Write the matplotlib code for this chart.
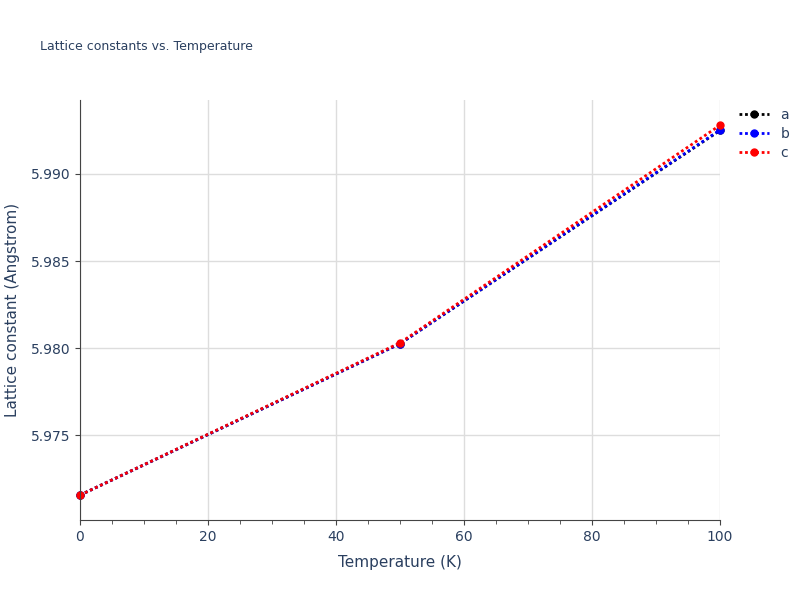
import matplotlib
matplotlib.use("Agg")
import matplotlib.pyplot as plt
from matplotlib.ticker import MultipleLocator

temps = [0, 50, 100]
a_vals = [5.97155, 5.98025, 5.99250]
b_vals = [5.97155, 5.98025, 5.99253]
c_vals = [5.97155, 5.98030, 5.99280]
series = [("a", a_vals, "black"), ("b", b_vals, "blue"), ("c", c_vals, "red")]

fig = plt.figure(figsize=(8, 6), dpi=100)
ax = fig.add_axes([0.1, 0.1333, 0.8, 0.7])
txt = "#2a3f5f"
for name, vals, col in series:
    ax.plot(temps, vals, linestyle=(0, (1, 1)), color=col, lw=2, marker="o", ms=5, label=name, clip_on=False)
ax.set_xlim(0, 100)
ax.set_ylim(5.97012, 5.99425)
ax.yaxis.set_major_locator(MultipleLocator(0.005))
ax.xaxis.set_major_locator(MultipleLocator(20))
ax.xaxis.set_minor_locator(MultipleLocator(5))
ax.grid(True, color="#dddddd", lw=1)
ax.set_axisbelow(True)
for s in ["top", "right"]:
    ax.spines[s].set_visible(False)
for s in ["left", "bottom"]:
    ax.spines[s].set_color("#444444")
ax.tick_params(colors="#444444", labelcolor=txt, labelsize=10)
ax.tick_params(which="minor", length=3, colors="#444444")
ax.set_xlabel("Temperature (K)", color=txt, fontsize=11, labelpad=8)
ax.set_ylabel("Lattice constant (Angstrom)", color=txt, fontsize=11, labelpad=8)
fig.text(0.05, 0.917, "Lattice constants vs. Temperature", color=txt, fontsize=9)
leg = ax.legend(loc="upper left", bbox_to_anchor=(1.01, 1.01), frameon=False, fontsize=10,
                handlelength=2.2, labelspacing=0.35)
for t in leg.get_texts():
    t.set_color(txt)
fig.savefig("out.png")
